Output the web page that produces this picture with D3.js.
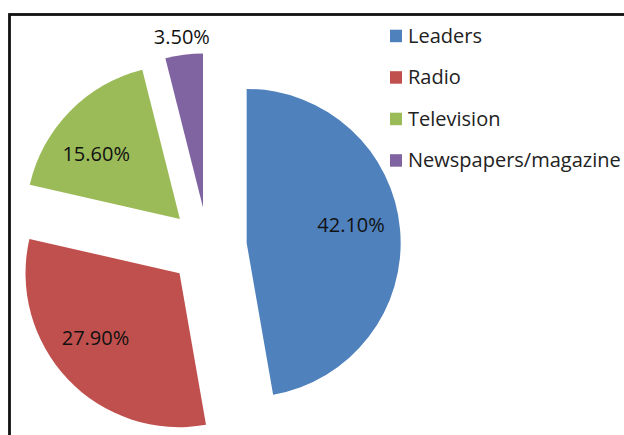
<!DOCTYPE html>
<html>
<head>
<meta charset="utf-8">
<script src="https://cdn.jsdelivr.net/npm/d3@7"></script>
<style>
  html, body { margin: 0; padding: 0; background: #fff; }
  svg { display: block; }
  text { font-family: "Open Sans", Lato, sans-serif; }
</style>
</head>
<body>
<svg id="chart" width="624" height="435"></svg>
<script>
// Sources of information
const categories = ["Leaders", "Radio", "Television", "Newspapers/magazine"];
const shares = [42.1, 27.9, 15.6, 3.5];
const valueLabels = ["42.10%", "27.90%", "15.60%", "3.50%"];
const colors = ["#4F81BD", "#C0504D", "#9BBB59", "#8064A2"];

const svg = d3.select("#chart");
const W = 624, H = 435;

// frame (only top and left edges fall inside the canvas)
svg.append("rect")
  .attr("x", 9.5).attr("y", 14.5)
  .attr("width", W + 20).attr("height", H + 20)
  .attr("fill", "#fff")
  .attr("stroke", "#111").attr("stroke-width", 2.8);

const cx = 207.8, cy = 246.3;
const R = 154;
const explode = 39;

const pie = d3.pie().sort(null).value(d => d).startAngle(0).endAngle(2 * Math.PI);
const arcs = pie(shares);

const arc = d3.arc().innerRadius(0).outerRadius(R);
const offsetArc = d3.arc().innerRadius(explode).outerRadius(explode);

// label placement: distance from the slice tip and a small angular shift (degrees)
const insideLabelR = 106, outsideLabelR = R + 18;
const labelShift = [-5, 6, -6.5, 0];
function labelPoint(d, i) {
  const small = (d.endAngle - d.startAngle) < 0.4;
  const r = small ? outsideLabelR : insideLabelR;
  const a = (d.startAngle + d.endAngle) / 2 + labelShift[i] * Math.PI / 180;
  return [r * Math.sin(a), -r * Math.cos(a)];
}

const g = svg.append("g").attr("transform", `translate(${cx},${cy})`);

const slices = g.selectAll("g.slice")
  .data(arcs)
  .enter().append("g")
  .attr("class", "slice")
  .attr("transform", d => {
    const [ox, oy] = offsetArc.centroid(d);
    return `translate(${ox},${oy})`;
  });

slices.append("path")
  .attr("d", arc)
  .attr("fill", (d, i) => colors[i]);

slices.append("text")
  .attr("transform", (d, i) => `translate(${labelPoint(d, i)})`)
  .attr("text-anchor", "middle")
  .attr("dy", "0.36em")
  .attr("font-size", 20)
  .attr("fill", "#111")
  .text((d, i) => valueLabels[i]);

// legend
const legend = svg.append("g").attr("transform", "translate(390,0)");
const rowY = d3.scaleLinear().domain([0, 1]).range([42.7, 84.2]);
const items = legend.selectAll("g.item")
  .data(categories)
  .enter().append("g")
  .attr("class", "item")
  .attr("transform", (d, i) => `translate(0,${rowY(i)})`);

items.append("rect")
  .attr("x", 0).attr("y", -13)
  .attr("width", 12).attr("height", 12.5)
  .attr("fill", (d, i) => colors[i]);

items.append("text")
  .attr("x", 18).attr("y", 0)
  .attr("font-size", 20)
  .attr("fill", "#222")
  .text(d => d);
</script>
</body>
</html>
